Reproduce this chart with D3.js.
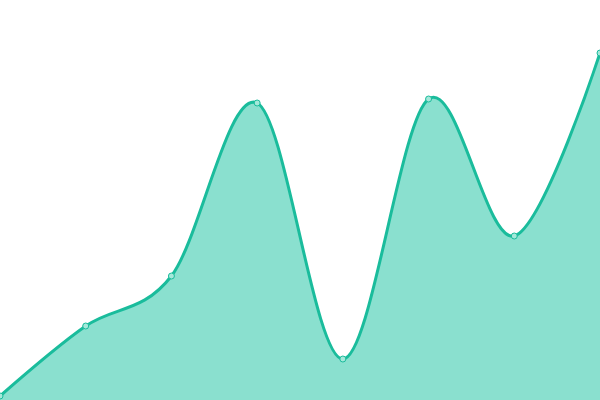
<!DOCTYPE html>
<html>
<head>
<meta charset="utf-8">
<script src="https://cdn.jsdelivr.net/npm/d3@7"></script>
<style>
  html, body { margin: 0; padding: 0; background: #fff; overflow: hidden; }
</style>
</head>
<body>
<div class="chart"></div>
<script>
// smooth area chart, no axes
var categories = [0, 1, 2, 3, 4, 5, 6, 7];
var values = [4, 74, 124, 297, 41, 301, 164, 347];

var svgWidth = 600;
var svgHeight = 400;

var svg = d3.select(".chart").append("svg").attr("width", svgWidth).attr("height", svgHeight);

var data = categories.map(function(c, i) { return {x: c, y: values[i]}; });

var xScale = d3.scaleLinear().domain([0, categories.length - 1]).range([0, svgWidth]);
var yScale = d3.scaleLinear().domain([0, 400]).range([svgHeight, 0]);

var area = d3.area().curve(d3.curveCardinal)
  .x(d => xScale(d.x)).y0(svgHeight).y1(d => yScale(d.y));
var line = d3.line().curve(d3.curveCardinal)
  .x(d => xScale(d.x)).y(d => yScale(d.y));

svg.append("path").datum(data).attr("d", area).attr("fill", "#8ae0cf");
svg.append("path").datum(data).attr("d", line).attr("fill", "none")
  .attr("stroke", "#1abc9c").attr("stroke-width", 3);

svg.selectAll("circle").data(data).enter().append("circle")
  .attr("cx", d => xScale(d.x)).attr("cy", d => yScale(d.y)).attr("r", 3)
  .attr("fill", "#a5e8da").attr("stroke", "#1abc9c").attr("stroke-width", 1);
</script>
</body>
</html>
